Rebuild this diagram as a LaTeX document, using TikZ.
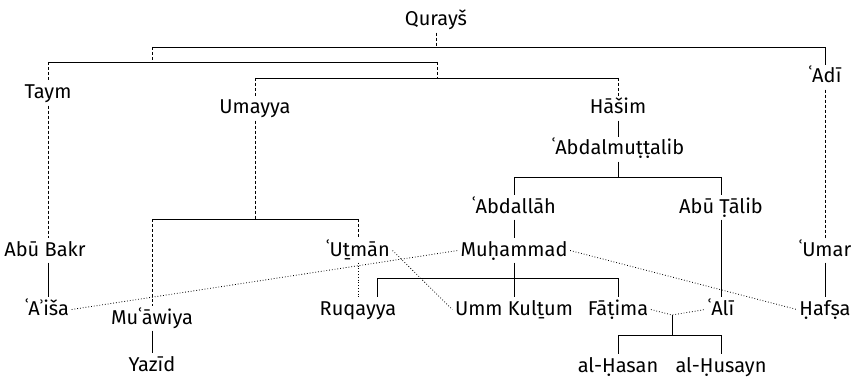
\documentclass[tikz,border=0pt]{standalone}
\usepackage{fontspec}
\setmainfont{Fira Sans}
\newfontfamily\altfont{Noto Sans}
\begin{document}
\begin{tikzpicture}[x=1pt,y=-1pt,
  nm/.style={anchor=base,inner sep=2.5pt,text height=15pt,text depth=4pt,font=\fontsize{20}{23}\selectfont},
  ln/.style={line width=0.8pt},
  dsh/.style={line width=0.8pt,dash pattern=on 3pt off 2pt},
  dtd/.style={line width=0.8pt,dash pattern=on 0.8pt off 2pt}]
\useasboundingbox (0,0) rectangle (854,377);
% nodes
\node[nm] (qur) at (436,26) {Qurayš};
\node[nm] (taym) at (48,99) {Taym};
\node[nm] (adi) at (825,83) {ʿAdī};
\node[nm] (uma) at (255,114) {Umayya};
\node[nm] (has) at (618,114) {Hāšim};
\node[nm] (abm) at (618,155) {ʿAbdalmuṭṭalib};
\node[nm] (abd) at (514,213) {ʿAbdallāh};
\node[nm] (abt) at (721,213) {Abū Ṭālib};
\node[nm] (abb) at (45,256) {Abū Bakr};
\node[nm] (uth) at (358,256) {ʿUṯmān};
\node[nm] (muh) at (514,256) {Muḥammad};
\node[nm] (uma2) at (825,256) {ʿUmar};
\node[nm] (aisa) at (47,315) {ʿA{\altfont ʾ}iša};
\node[nm] (ruq) at (358,315) {Ruqayya};
\node[nm] (umk) at (514,315) {Umm Kulṯum};
\node[nm] (fat) at (618,315) {Fāṭima};
\node[nm] (ali) at (721,315) {ʿAlī};
\node[nm] (haf) at (825,315) {Ḥafṣa};
\node[nm] (muaw) at (152,324) {Muʿāwiya};
\node[nm] (yaz) at (152,371) {Yazīd};
\node[nm] (hasan) at (618,372) {al-Ḥasan};
\node[nm] (husayn) at (721,372) {al-Ḥusayn};
% bracket coordinates
\coordinate (q1) at (436,47);
\coordinate (q1l) at (152,47);
\coordinate (q1r) at (825,47);
\coordinate (q2) at (152,62);
\coordinate (q2l) at (48,62);
\coordinate (q2r) at (437,62);
\coordinate (q3) at (437,78);
\coordinate (q3l) at (255,78);
\coordinate (q3r) at (618,78);
\coordinate (u1) at (255,219);
\coordinate (u1l) at (152,219);
\coordinate (u1r) at (358,219);
\coordinate (a1) at (618,177);
\coordinate (a1l) at (514,177);
\coordinate (a1r) at (721,177);
\coordinate (m1) at (514,278);
\coordinate (m1l) at (377,278);
\coordinate (m1r) at (618,278);
\coordinate (f1) at (672,315);
\coordinate (f1d) at (672,335);
\coordinate (f1l) at (618,335);
\coordinate (f1r) at (721,335);
% Quraysh tree
\draw[dsh] (qur.south) -- (q1);
\draw[ln] (q1l) -- (q1r) -- (adi.north);
\draw[dsh] (q1l) -- (q2);
\draw[ln] (q2l) -- (q2r);
\draw[dsh] (q2r) -- (q3);
\draw[ln] (q3l) -- (q3r);
\draw[dsh] (q2l) -- (taym.north);
\draw[dsh] (q3l) -- (uma.north);
\draw[dsh] (q3r) -- (has.north);
\draw[dsh] (taym.south) -- (abb.north -| taym.south);
\draw[dsh] (adi.south) -- (uma2.north);
% Umayya
\draw[dsh] (uma.south) -- (u1);
\draw[ln] (u1l) -- (u1r);
\draw[dsh] (u1l) -- (muaw.north);
\draw[dsh] (u1r) -- (uth.north);
\draw[ln] (muaw.south) -- (yaz.north);
% Hashim
\draw[ln] (has.south) -- (abm.north);
\draw[ln] (abm.south) -- (a1);
\draw[ln] (a1l) -- (a1r);
\draw[ln] (a1l) -- (abd.north);
\draw[ln] (a1r) -- (abt.north);
\draw[ln] (abd.south) -- (muh.north);
\draw[ln] (abt.south) -- (ali.north);
% Muhammad's children
\draw[ln] (muh.south) -- (umk.north);
\draw[ln] (m1l) -- (m1r);
\draw[ln] (m1l) -- (ruq.north -| m1l);
\draw[ln] (m1r) -- (fat.north);
% other
\draw[ln] (abb.south -| taym.south) -- (aisa.north -| taym.south);
\draw[ln] (uma2.south) -- (haf.north);
% marriages
\draw[dtd] (aisa.east) -- (muh.west);
\draw[dtd] (muh.east) -- (haf.west);
\draw[dtd] (uth.east) -- (umk.west);
\draw[dtd] (uth.south) -- (ruq.north);
\draw[dtd] (fat.east) -- (f1) -- (ali.west);
\draw[ln] (f1) -- (f1d);
\draw[ln] (f1l) -- (f1r);
\draw[ln] (f1l) -- (hasan.north);
\draw[ln] (f1r) -- (husayn.north);
\end{tikzpicture}
\end{document}
